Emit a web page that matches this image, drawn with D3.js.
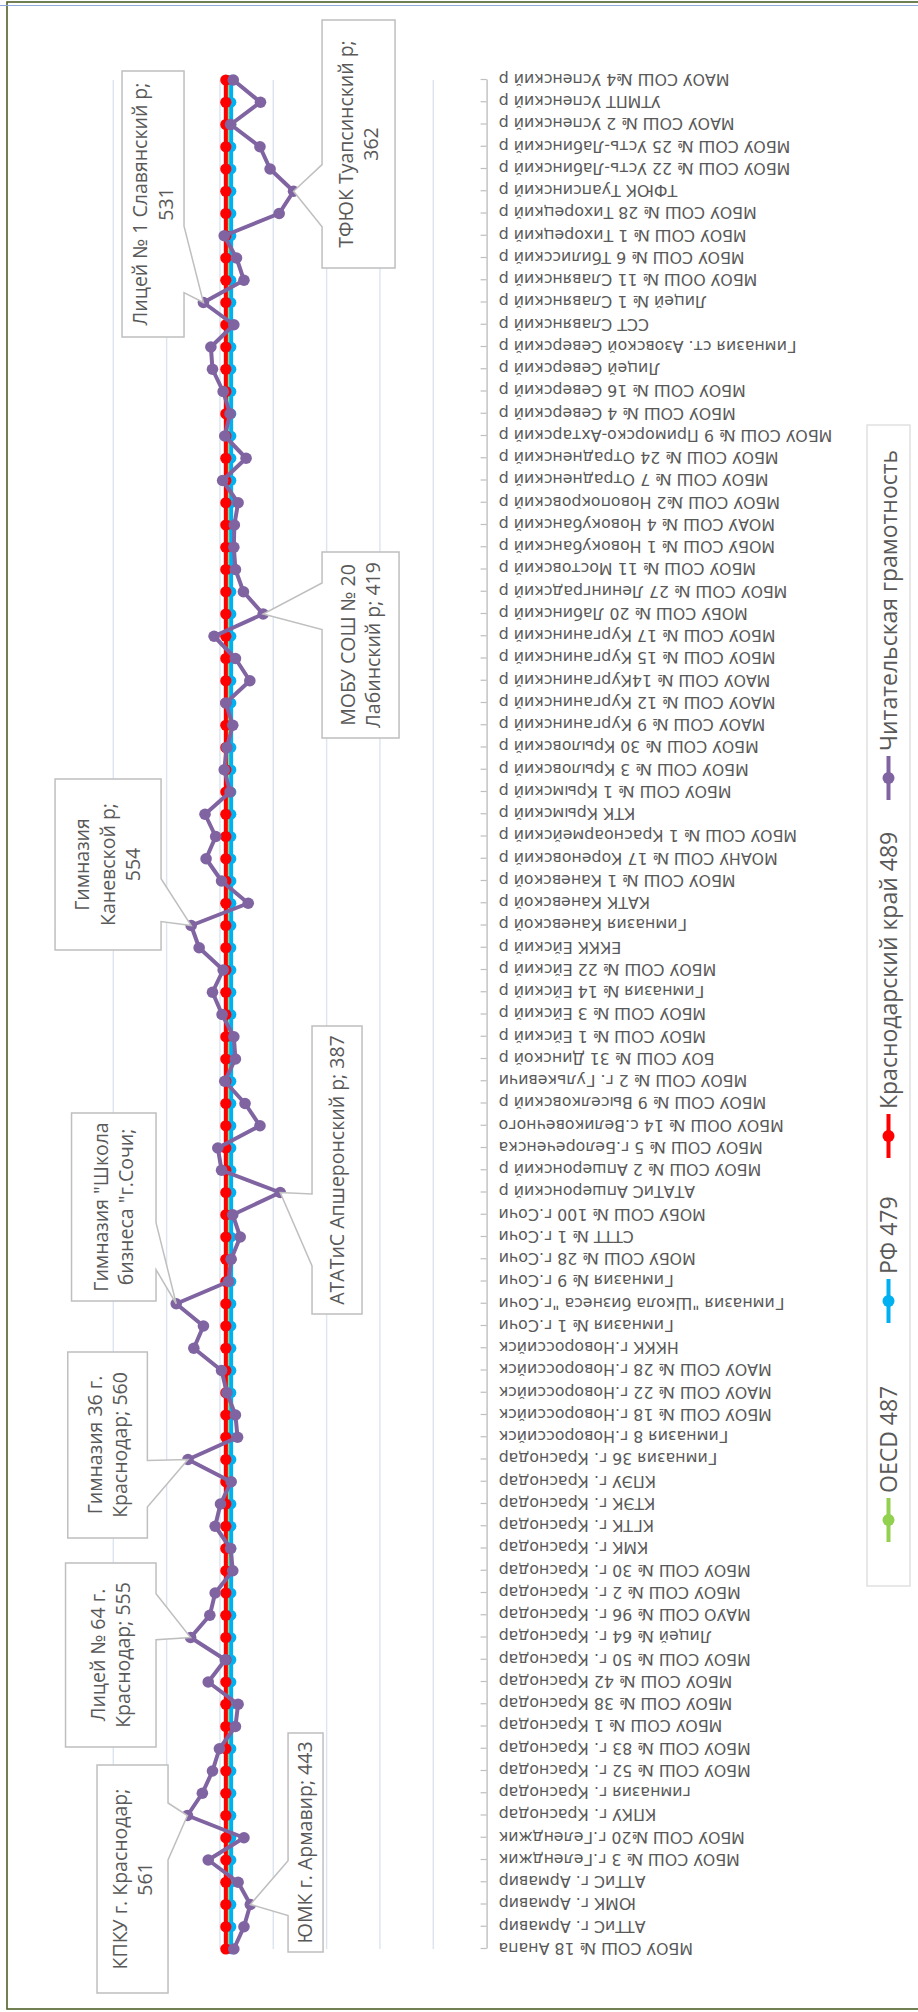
<!DOCTYPE html>
<html>
<head>
<meta charset="utf-8">
<script src="https://cdn.jsdelivr.net/npm/d3@7"></script>
<style>
  html, body { margin: 0; padding: 0; background: #fff; }
  svg { display: block; }
</style>
</head>
<body>
<svg id="chart" width="918" height="2012"></svg>
<script>
// Schools, in order along the category axis
const schools = [
  "МБОУ СОШ № 18 Анапа",
  "АТТиС г. Армавир",
  "ЮМК г. Армавир",
  "АТТиС г. Армавир",
  "МБОУ СОШ № 3 г.Геленджик",
  "МБОУ СОШ №20 г.Геленджик",
  "КПКУ г. Краснодар",
  "гимназия г. Краснодар",
  "МБОУ СОШ № 52 г. Краснодар",
  "МБОУ СОШ № 83 г. Краснодар",
  "МБОУ СОШ № 1 Краснодар",
  "МБОУ СОШ № 38 Краснодар",
  "МБОУ СОШ № 42 Краснодар",
  "МБОУ СОШ № 50 г. Краснодар",
  "Лицей № 64  г. Краснодар",
  "МАУО СОШ № 96 г. Краснодар",
  "МБОУ СОШ № 2 г. Краснодар",
  "МБОУ СОШ № 30 г. Краснодар",
  "КМК г. Краснодар",
  "КГТК г. Краснодар",
  "КТЭК г. Краснодар",
  "КПЭУ г. Краснодар",
  "Гимназия 36 г. Краснодар",
  "Гимназия 8 г.Новороссийск",
  "МБОУ СОШ № 18 г.Новороссийск",
  "МАОУ СОШ № 22 г.Новороссийск",
  "МАОУ СОШ № 28 г.Новороссийск",
  "НККК г.Новороссийск",
  "Гимназия № 1 г.Сочи",
  "Гимназия \"Школа бизнеса \"г.Сочи",
  "Гимназия № 9 г.Сочи",
  "МОБУ СОШ № 28  г.Сочи",
  "СТТТ № 1 г.Сочи",
  "МОБУ СОШ № 100 г.Сочи",
  "АТАТиС Апшеронский р",
  "МБОУ СОШ № 2 Апшеронский р",
  "МБОУ СОШ № 5 г.Белореченска",
  "МБОУ ООШ № 14 с.Великовечного",
  "МБОУ СОШ № 9 Выселковский  р",
  "МБОУ СОШ № 2 г. Гулькевичи",
  "БОУ СОШ № 31 Динской р",
  "МБОУ СОШ № 1 Ейский р",
  "МБОУ СОШ № 3 Ейский р",
  "Гимназия  № 14 Ейский р",
  "МБОУ СОШ № 22 Ейский р",
  "ЕККК Ейский р",
  "Гимназия Каневской р",
  "КАТК Каневской р",
  "МБОУ СОШ  № 1 Каневской р",
  "МОАНУ СОШ № 17 Кореновский р",
  "МБОУ СОШ № 1 Красноармейский р",
  "КТК Крымский р",
  "МБОУ СОШ № 1 Крымский р",
  "МБОУ СОШ № 3 Крыловский р",
  "МБОУ СОШ № 30 Крыловский р",
  "МАОУ СОШ № 9 Курганинский р",
  "МАОУ СОШ № 12 Курганинский р",
  "МАОУ СОШ № 14Курганинский р",
  "МБОУ СОШ № 15 Курганинский р",
  "МБОУ СОШ № 17 Курганинский р",
  "МОБУ СОШ № 20 Лабинский р",
  "МБОУ СОШ № 27 Ленинградский р",
  "МБОУ СОШ № 11 Мостовский р",
  "МОБУ СОШ № 1 Новокубанский р",
  "МОАУ СОШ № 4 Новокубанский р",
  "МБОУ СОШ №2 Новопокровский р",
  "МБОУ СОШ № 7 Отрадненский р",
  "МБОУ СОШ № 24 Отрадненский р",
  "МБОУ СОШ № 9 Приморско-Ахтарский р",
  "МБОУ СОШ № 4 Северский р",
  "МБОУ СОШ № 16 Северский р",
  "Лицей Северский р",
  "Гимназия ст. Азовской Северский р",
  "ССТ Славянский р",
  "Лицей № 1 Славянский р",
  "МБОУ ООШ № 11 Славянский р",
  "МБОУ СОШ № 6 Тбилисский р",
  "МБОУ СОШ № 1 Тихорецкий р",
  "МБОУ СОШ № 28 Тихорецкий р",
  "ТФЮК Туапсинский р",
  "МБОУ СОШ № 22 Усть-Лабинский р",
  "МБОУ СОШ № 25 Усть-Лабинский р",
  "МАОУ СОШ № 2 Успенский р",
  "УТМПТ Успенский р",
  "МАОУ СОШ №4 Успенский р"
];

// Reading literacy score of each school
const readingScores = [
  474, 455, 443, 466, 522, 455, 561, 533, 514, 501,
  471, 466, 522, 490, 555, 519, 509, 476, 480, 509,
  499, 479, 560, 467, 471, 487, 497, 549, 531, 582,
  484, 479, 462, 476, 387, 497, 504, 425, 453, 491,
  471, 474, 496, 514, 494, 539, 554, 447, 497, 526,
  508, 528, 481, 492, 487, 476, 489, 444, 471, 511,
  419, 456, 471, 474, 473, 466, 495, 451, 491, 481,
  494, 514, 517, 474, 531, 455, 469, 492, 389, 362,
  406, 425, 480, 424, 475
];

// Reference levels
const oecdLevel = 487;
const russiaLevel = 479;
const regionLevel = 489;

const seriesNames = ["OECD 487", "РФ 479", "Краснодарский край 489", "Читательская грамотность"];
const seriesColors = ["#92D050", "#00B0F0", "#FF0000", "#8064A2"];

const valueTicks = [0, 100, 200, 300, 400, 500, 600, 700];

// Callouts for selected schools: index, text lines, box placement relative to the point
const callouts = [
  { index: 2,  lines: ["ЮМК г. Армавир; 443"], dx: -47.5, dy: 37.7, w: 219, h: 35 },
  { index: 6,  lines: ["КПКУ г. Краснодар;", "561"], dx: -177.5, dy: -90.4, w: 228, h: 71 },
  { index: 14, lines: ["Лицей № 64  г.", "Краснодар; 555"], dx: -109.5, dy: -125.1, w: 184, h: 90.5 },
  { index: 22, lines: ["Гимназия 36 г.", "Краснодар; 560"], dx: -78.5, dy: -120.2, w: 186, h: 79.6 },
  { index: 29, lines: ["Гимназия \"Школа", "бизнеса \"г.Сочи;"], dx: 2.75, dy: -104.7, w: 188, h: 84.5 },
  { index: 34, lines: ["АТАТиС Апшеронский р; 387"], dx: -121.5, dy: 31.8, w: 288, h: 50 },
  { index: 46, lines: ["Гимназия", "Каневской р;", "554"], dx: -24.5, dy: -136.1, w: 171, h: 106 },
  { index: 60, lines: ["МОБУ СОШ № 20", "Лабинский р; 419"], dx: -124, dy: 58.9, w: 186, h: 77 },
  { index: 74, lines: ["Лицей № 1 Славянский р;", "531"], dx: -34.5, dy: -81.4, w: 266, h: 62 },
  { index: 79, lines: ["ТФЮК Туапсинский р;", "362"], dx: -76.75, dy: 28.5, w: 248, h: 73 }
];

// ---- layout (chart is laid out landscape, then turned onto the tall page) ----
const pageW = 918, pageH = 2012;
const plot = { x0: 63, x1: 1932, yTop: 113.3, yBase: 486.6 };

const svg = d3.select("#chart");

// outer frame
svg.append("rect")
  .attr("x", 7).attr("y", 2).attr("width", 930).attr("height", 2007)
  .attr("fill", "none").attr("stroke", "#4F6228").attr("stroke-width", 1.6);
svg.append("line")
  .attr("x1", 0).attr("x2", pageW).attr("y1", 5.5).attr("y2", 5.5)
  .attr("stroke", "#8EA9DB").attr("stroke-width", 1);

const g = svg.append("g").attr("transform", `translate(0,${pageH}) rotate(-90)`);

const x = d3.scalePoint().domain(d3.range(schools.length)).range([plot.x0, plot.x1]);
const y = d3.scaleLinear().domain([0, 700]).range([plot.yBase, plot.yTop]);

// gridlines
g.append("g").selectAll("line")
  .data(valueTicks.filter(v => v > 0))
  .join("line")
  .attr("x1", plot.x0).attr("x2", plot.x1)
  .attr("y1", d => y(d)).attr("y2", d => y(d))
  .attr("stroke", "#DCE4EF").attr("stroke-width", 1.4);

// category axis
const axis = d3.axisBottom(x).tickSize(0).tickFormat(i => schools[i]);
const axisG = g.append("g").attr("transform", `translate(0,${plot.yBase})`).call(axis);
axisG.select(".domain").attr("stroke", "#BFBFBF").attr("stroke-width", 1.4);
axisG.selectAll(".tick line").remove();
axisG.selectAll(".tick").append("line")
  .attr("y1", -6).attr("y2", 0)
  .attr("stroke", "#BFBFBF").attr("stroke-width", 1.2);
axisG.selectAll(".tick text")
  .attr("transform", "rotate(-90)")
  .attr("text-anchor", "end")
  .attr("x", -12).attr("y", 0).attr("dy", "0.35em")
  .attr("font-family", "'DejaVu Sans', sans-serif")
  .attr("font-size", 15.8)
  .attr("fill", "#595959");

// series
const flat = (level) => schools.map(() => level);
const series = [
  { name: seriesNames[0], color: seriesColors[0], values: flat(oecdLevel), r: 5 },
  { name: seriesNames[1], color: seriesColors[1], values: flat(russiaLevel), r: 5.2 },
  { name: seriesNames[2], color: seriesColors[2], values: flat(regionLevel), r: 5.6 },
  { name: seriesNames[3], color: seriesColors[3], values: readingScores, r: 5.8 }
];

const line = d3.line().x((d, i) => x(i)).y(d => y(d));

series.forEach(s => {
  const sg = g.append("g");
  sg.append("path")
    .attr("d", line(s.values))
    .attr("fill", "none")
    .attr("stroke", s.color)
    .attr("stroke-width", 4)
    .attr("stroke-linejoin", "round");
  sg.selectAll("circle")
    .data(s.values)
    .join("circle")
    .attr("cx", (d, i) => x(i))
    .attr("cy", d => y(d))
    .attr("r", s.r)
    .attr("fill", s.color);
});

// callouts (wedge-rectangle shape pointing at the marker)
function calloutPath(bx, by, w, h, tx, ty) {
  const cx = bx + w / 2, cy = by + h / 2;
  const dxp = tx - cx, dyp = ty - cy;
  if (Math.abs(dyp) * w > Math.abs(dxp) * h) {
    const b0 = dxp < 0 ? bx + w * 2 / 12 : bx + w * 7 / 12;
    const b1 = dxp < 0 ? bx + w * 5 / 12 : bx + w * 10 / 12;
    if (dyp < 0) {
      return `M${bx},${by}L${b0},${by}L${tx},${ty}L${b1},${by}L${bx + w},${by}L${bx + w},${by + h}L${bx},${by + h}Z`;
    }
    return `M${bx},${by}L${bx + w},${by}L${bx + w},${by + h}L${b1},${by + h}L${tx},${ty}L${b0},${by + h}L${bx},${by + h}Z`;
  }
  const b0 = dyp < 0 ? by + h * 2 / 12 : by + h * 7 / 12;
  const b1 = dyp < 0 ? by + h * 5 / 12 : by + h * 10 / 12;
  if (dxp < 0) {
    return `M${bx},${by}L${bx + w},${by}L${bx + w},${by + h}L${bx},${by + h}L${bx},${b1}L${tx},${ty}L${bx},${b0}Z`;
  }
  return `M${bx},${by}L${bx + w},${by}L${bx + w},${b0}L${tx},${ty}L${bx + w},${b1}L${bx + w},${by + h}L${bx},${by + h}Z`;
}

const cg = g.append("g");
callouts.forEach(c => {
  const tx = x(c.index), ty = y(readingScores[c.index]);
  const bx = tx + c.dx, by = ty + c.dy;
  cg.append("path")
    .attr("d", calloutPath(bx, by, c.w, c.h, tx, ty))
    .attr("fill", "#fff")
    .attr("stroke", "#BFBFBF")
    .attr("stroke-width", 1.5);
  const lh = 25.5;
  const t = cg.append("text")
    .attr("font-family", "'Open Sans', sans-serif")
    .attr("font-size", 19.5)
    .attr("fill", "#595959")
    .attr("text-anchor", "middle");
  c.lines.forEach((ln, k) => {
    t.append("tspan")
      .attr("x", bx + c.w / 2)
      .attr("y", by + c.h / 2 + (k - (c.lines.length - 1) / 2) * lh)
      .attr("dy", "0.35em")
      .text(ln);
  });
});

// legend: boxed row, one entry per series
const legend = { x0: 426, x1: 1587, y0: 867, y1: 910 };
const legendMarkerX = [492, 711, 876, 1234];
const lg = g.append("g");
lg.append("rect")
  .attr("x", legend.x0).attr("y", legend.y0)
  .attr("width", legend.x1 - legend.x0).attr("height", legend.y1 - legend.y0)
  .attr("fill", "#fff").attr("stroke", "#D9D9D9").attr("stroke-width", 1.2);
const ly = (legend.y0 + legend.y1) / 2;
const items = lg.selectAll("g.item").data(series).join("g")
  .attr("class", "item")
  .attr("transform", (d, i) => `translate(${legendMarkerX[i]},0)`);
items.append("line")
  .attr("x1", -22).attr("x2", 22).attr("y1", ly).attr("y2", ly)
  .attr("stroke", d => d.color).attr("stroke-width", 4);
items.append("circle")
  .attr("cx", 0).attr("cy", ly).attr("r", 6)
  .attr("fill", d => d.color);
items.append("text")
  .attr("x", 27).attr("y", ly).attr("dy", "0.35em")
  .attr("font-family", "'Open Sans', sans-serif")
  .attr("font-size", 23)
  .attr("fill", "#595959")
  .text(d => d.name);
</script>
</body>
</html>
